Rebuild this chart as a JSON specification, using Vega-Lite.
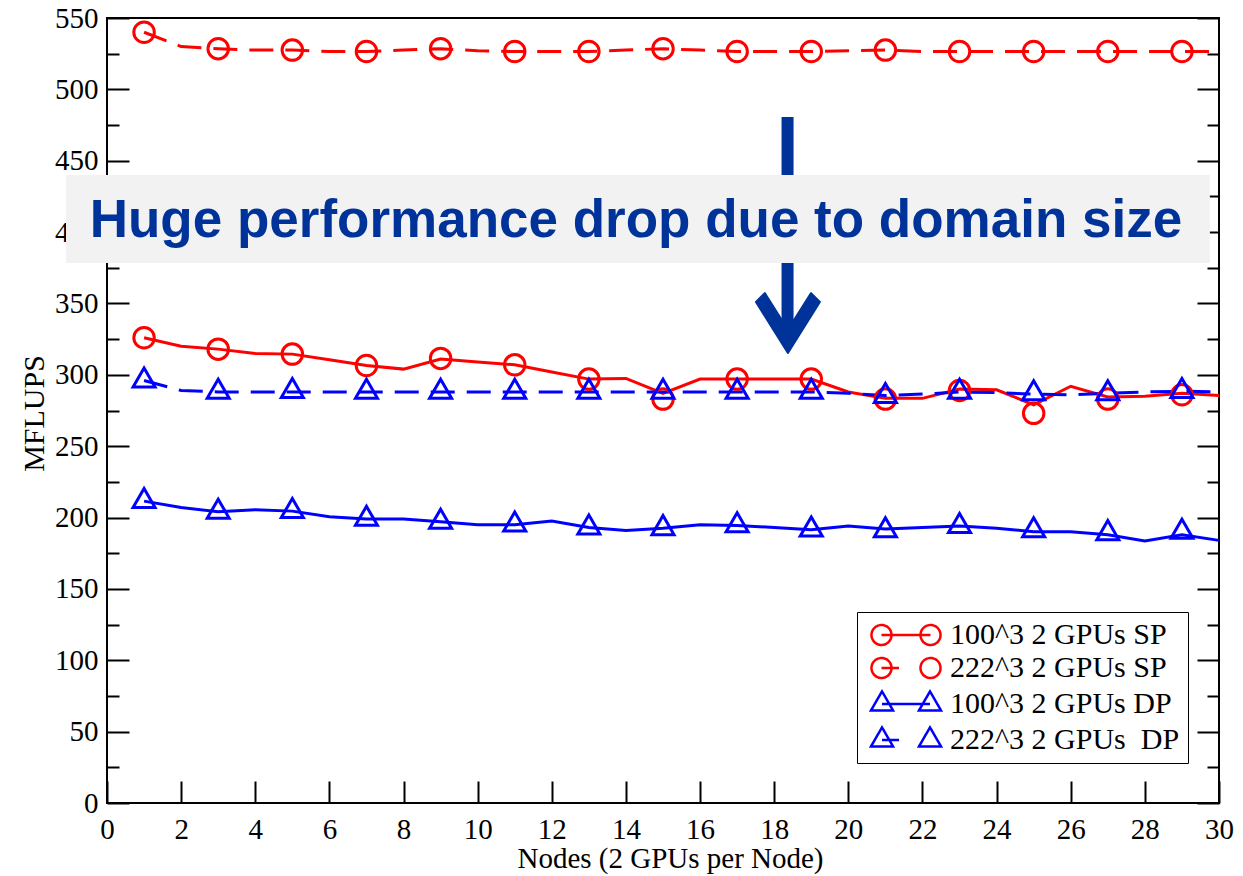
{
  "$schema": "https://vega.github.io/schema/vega-lite/v6.json",
  "width": 1112,
  "height": 785,
  "autosize": {"type": "none"},
  "padding": {"left": 107, "top": 18, "right": 24, "bottom": 73},
  "background": "white",
  "config": {
    "font": "Liberation Serif",
    "view": {"stroke": "black", "strokeWidth": 2},
    "style": {"guide-label": {"font": "Times New Roman, Liberation Serif, serif", "fill": "black"}, "guide-title": {"font": "Liberation Serif", "fill": "black"}},
    "axis": {"domain": false, "grid": false, "tickColor": "black", "tickWidth": 2, "labelFont": "Times New Roman, Liberation Serif, serif", "labelFontSize": 29, "labelColor": "black", "titleFont": "Liberation Serif", "titleFontWeight": "normal", "titleColor": "black", "labelOverlap": false, "labelFlush": false},
    "legend": {"labelFont": "Liberation Serif", "labelFontSize": 30, "labelColor": "black"}
  },
  "datasets": {
    "perf": [
      {"node":1,"series":"100^3 2 GPUs SP","mflups":326,"marker":326},
      {"node":2,"series":"100^3 2 GPUs SP","mflups":320,"marker":null},
      {"node":3,"series":"100^3 2 GPUs SP","mflups":318,"marker":318},
      {"node":4,"series":"100^3 2 GPUs SP","mflups":315,"marker":null},
      {"node":5,"series":"100^3 2 GPUs SP","mflups":314.5,"marker":314.5},
      {"node":6,"series":"100^3 2 GPUs SP","mflups":310.5,"marker":null},
      {"node":7,"series":"100^3 2 GPUs SP","mflups":306.5,"marker":306.5},
      {"node":8,"series":"100^3 2 GPUs SP","mflups":304,"marker":null},
      {"node":9,"series":"100^3 2 GPUs SP","mflups":311,"marker":311.5},
      {"node":10,"series":"100^3 2 GPUs SP","mflups":309,"marker":null},
      {"node":11,"series":"100^3 2 GPUs SP","mflups":307,"marker":307},
      {"node":12,"series":"100^3 2 GPUs SP","mflups":302,"marker":null},
      {"node":13,"series":"100^3 2 GPUs SP","mflups":297,"marker":297},
      {"node":14,"series":"100^3 2 GPUs SP","mflups":297.5,"marker":null},
      {"node":15,"series":"100^3 2 GPUs SP","mflups":287,"marker":283},
      {"node":16,"series":"100^3 2 GPUs SP","mflups":297,"marker":null},
      {"node":17,"series":"100^3 2 GPUs SP","mflups":297,"marker":297},
      {"node":18,"series":"100^3 2 GPUs SP","mflups":297,"marker":null},
      {"node":19,"series":"100^3 2 GPUs SP","mflups":297,"marker":297},
      {"node":20,"series":"100^3 2 GPUs SP","mflups":288,"marker":null},
      {"node":21,"series":"100^3 2 GPUs SP","mflups":283.5,"marker":283},
      {"node":22,"series":"100^3 2 GPUs SP","mflups":283.5,"marker":null},
      {"node":23,"series":"100^3 2 GPUs SP","mflups":290,"marker":289},
      {"node":24,"series":"100^3 2 GPUs SP","mflups":289.5,"marker":null},
      {"node":25,"series":"100^3 2 GPUs SP","mflups":279,"marker":273},
      {"node":26,"series":"100^3 2 GPUs SP","mflups":292,"marker":null},
      {"node":27,"series":"100^3 2 GPUs SP","mflups":284.5,"marker":283},
      {"node":28,"series":"100^3 2 GPUs SP","mflups":285,"marker":null},
      {"node":29,"series":"100^3 2 GPUs SP","mflups":287,"marker":286},
      {"node":30,"series":"100^3 2 GPUs SP","mflups":285.5,"marker":null},

      {"node":1,"series":"222^3 2 GPUs SP","mflups":540,"marker":540},
      {"node":2,"series":"222^3 2 GPUs SP","mflups":530,"marker":null},
      {"node":3,"series":"222^3 2 GPUs SP","mflups":528.5,"marker":528.5},
      {"node":4,"series":"222^3 2 GPUs SP","mflups":527.5,"marker":null},
      {"node":5,"series":"222^3 2 GPUs SP","mflups":527.5,"marker":527.5},
      {"node":6,"series":"222^3 2 GPUs SP","mflups":526.5,"marker":null},
      {"node":7,"series":"222^3 2 GPUs SP","mflups":526.5,"marker":526.5},
      {"node":8,"series":"222^3 2 GPUs SP","mflups":527.5,"marker":null},
      {"node":9,"series":"222^3 2 GPUs SP","mflups":528.5,"marker":528.5},
      {"node":10,"series":"222^3 2 GPUs SP","mflups":527,"marker":null},
      {"node":11,"series":"222^3 2 GPUs SP","mflups":526.5,"marker":526.5},
      {"node":12,"series":"222^3 2 GPUs SP","mflups":526.5,"marker":null},
      {"node":13,"series":"222^3 2 GPUs SP","mflups":526.5,"marker":526.5},
      {"node":14,"series":"222^3 2 GPUs SP","mflups":527.5,"marker":null},
      {"node":15,"series":"222^3 2 GPUs SP","mflups":528.5,"marker":528.5},
      {"node":16,"series":"222^3 2 GPUs SP","mflups":527.5,"marker":null},
      {"node":17,"series":"222^3 2 GPUs SP","mflups":526.5,"marker":526.5},
      {"node":18,"series":"222^3 2 GPUs SP","mflups":526.5,"marker":null},
      {"node":19,"series":"222^3 2 GPUs SP","mflups":526.5,"marker":526.5},
      {"node":20,"series":"222^3 2 GPUs SP","mflups":527,"marker":null},
      {"node":21,"series":"222^3 2 GPUs SP","mflups":527.5,"marker":527.5},
      {"node":22,"series":"222^3 2 GPUs SP","mflups":526.5,"marker":null},
      {"node":23,"series":"222^3 2 GPUs SP","mflups":526.5,"marker":526.5},
      {"node":24,"series":"222^3 2 GPUs SP","mflups":526.5,"marker":null},
      {"node":25,"series":"222^3 2 GPUs SP","mflups":526.5,"marker":526.5},
      {"node":26,"series":"222^3 2 GPUs SP","mflups":526.5,"marker":null},
      {"node":27,"series":"222^3 2 GPUs SP","mflups":526.5,"marker":526.5},
      {"node":28,"series":"222^3 2 GPUs SP","mflups":526.5,"marker":null},
      {"node":29,"series":"222^3 2 GPUs SP","mflups":526.5,"marker":526.5},
      {"node":30,"series":"222^3 2 GPUs SP","mflups":526.5,"marker":null},

      {"node":1,"series":"100^3 2 GPUs DP","mflups":211.5,"marker":211.5},
      {"node":2,"series":"100^3 2 GPUs DP","mflups":207,"marker":null},
      {"node":3,"series":"100^3 2 GPUs DP","mflups":204,"marker":204},
      {"node":4,"series":"100^3 2 GPUs DP","mflups":205.5,"marker":null},
      {"node":5,"series":"100^3 2 GPUs DP","mflups":204.5,"marker":204.5},
      {"node":6,"series":"100^3 2 GPUs DP","mflups":200.5,"marker":null},
      {"node":7,"series":"100^3 2 GPUs DP","mflups":199,"marker":199},
      {"node":8,"series":"100^3 2 GPUs DP","mflups":199,"marker":null},
      {"node":9,"series":"100^3 2 GPUs DP","mflups":197,"marker":197},
      {"node":10,"series":"100^3 2 GPUs DP","mflups":195,"marker":null},
      {"node":11,"series":"100^3 2 GPUs DP","mflups":195,"marker":195},
      {"node":12,"series":"100^3 2 GPUs DP","mflups":197.5,"marker":null},
      {"node":13,"series":"100^3 2 GPUs DP","mflups":193,"marker":193},
      {"node":14,"series":"100^3 2 GPUs DP","mflups":191,"marker":null},
      {"node":15,"series":"100^3 2 GPUs DP","mflups":192.5,"marker":192.5},
      {"node":16,"series":"100^3 2 GPUs DP","mflups":195,"marker":null},
      {"node":17,"series":"100^3 2 GPUs DP","mflups":194.5,"marker":194.5},
      {"node":18,"series":"100^3 2 GPUs DP","mflups":193,"marker":null},
      {"node":19,"series":"100^3 2 GPUs DP","mflups":191.5,"marker":191.5},
      {"node":20,"series":"100^3 2 GPUs DP","mflups":194,"marker":null},
      {"node":21,"series":"100^3 2 GPUs DP","mflups":192,"marker":191},
      {"node":22,"series":"100^3 2 GPUs DP","mflups":193,"marker":null},
      {"node":23,"series":"100^3 2 GPUs DP","mflups":194,"marker":194},
      {"node":24,"series":"100^3 2 GPUs DP","mflups":192.5,"marker":null},
      {"node":25,"series":"100^3 2 GPUs DP","mflups":190,"marker":191},
      {"node":26,"series":"100^3 2 GPUs DP","mflups":190,"marker":null},
      {"node":27,"series":"100^3 2 GPUs DP","mflups":188,"marker":189},
      {"node":28,"series":"100^3 2 GPUs DP","mflups":183.5,"marker":null},
      {"node":29,"series":"100^3 2 GPUs DP","mflups":188,"marker":190},
      {"node":30,"series":"100^3 2 GPUs DP","mflups":184,"marker":null},

      {"node":1,"series":"222^3 2 GPUs\u00a0 DP","mflups":296,"marker":296},
      {"node":2,"series":"222^3 2 GPUs\u00a0 DP","mflups":289,"marker":null},
      {"node":3,"series":"222^3 2 GPUs\u00a0 DP","mflups":288,"marker":288},
      {"node":4,"series":"222^3 2 GPUs\u00a0 DP","mflups":288,"marker":null},
      {"node":5,"series":"222^3 2 GPUs\u00a0 DP","mflups":288,"marker":288.5},
      {"node":6,"series":"222^3 2 GPUs\u00a0 DP","mflups":288,"marker":null},
      {"node":7,"series":"222^3 2 GPUs\u00a0 DP","mflups":288,"marker":288},
      {"node":8,"series":"222^3 2 GPUs\u00a0 DP","mflups":288,"marker":null},
      {"node":9,"series":"222^3 2 GPUs\u00a0 DP","mflups":288,"marker":288},
      {"node":10,"series":"222^3 2 GPUs\u00a0 DP","mflups":288,"marker":null},
      {"node":11,"series":"222^3 2 GPUs\u00a0 DP","mflups":288,"marker":288},
      {"node":12,"series":"222^3 2 GPUs\u00a0 DP","mflups":288,"marker":null},
      {"node":13,"series":"222^3 2 GPUs\u00a0 DP","mflups":288,"marker":288},
      {"node":14,"series":"222^3 2 GPUs\u00a0 DP","mflups":288,"marker":null},
      {"node":15,"series":"222^3 2 GPUs\u00a0 DP","mflups":288,"marker":288},
      {"node":16,"series":"222^3 2 GPUs\u00a0 DP","mflups":288,"marker":null},
      {"node":17,"series":"222^3 2 GPUs\u00a0 DP","mflups":288,"marker":288},
      {"node":18,"series":"222^3 2 GPUs\u00a0 DP","mflups":288,"marker":null},
      {"node":19,"series":"222^3 2 GPUs\u00a0 DP","mflups":288,"marker":288},
      {"node":20,"series":"222^3 2 GPUs\u00a0 DP","mflups":287,"marker":null},
      {"node":21,"series":"222^3 2 GPUs\u00a0 DP","mflups":285.5,"marker":285},
      {"node":22,"series":"222^3 2 GPUs\u00a0 DP","mflups":286.5,"marker":null},
      {"node":23,"series":"222^3 2 GPUs\u00a0 DP","mflups":288,"marker":288},
      {"node":24,"series":"222^3 2 GPUs\u00a0 DP","mflups":287.5,"marker":null},
      {"node":25,"series":"222^3 2 GPUs\u00a0 DP","mflups":286.5,"marker":287},
      {"node":26,"series":"222^3 2 GPUs\u00a0 DP","mflups":286,"marker":null},
      {"node":27,"series":"222^3 2 GPUs\u00a0 DP","mflups":287,"marker":287},
      {"node":28,"series":"222^3 2 GPUs\u00a0 DP","mflups":288,"marker":null},
      {"node":29,"series":"222^3 2 GPUs\u00a0 DP","mflups":288.5,"marker":288.5},
      {"node":30,"series":"222^3 2 GPUs\u00a0 DP","mflups":288,"marker":null}
    ],
    "notes": [
      {"label": "Huge performance drop due to domain size", "boxX": -1.106, "boxX2": 29.755, "boxY": 440.0, "boxY2": 378.3, "textX": 14.27, "textY": 396.6, "shaftX": 18.36, "shaftY": 480.6, "shaftY2": 334.9, "headX": 18.37, "headY": 337}
    ]
  },
  "layer": [
    {
      "data": {"name": "perf"},
      "mark": {"type": "point", "filled": false, "strokeWidth": 2.5, "opacity": 1, "size": 0},
      "encoding": {
        "x": {"field": "node", "type": "quantitative", "scale": {"domain": [0, 30], "nice": false, "zero": false}, "axis": null},
        "y": {"field": "mflups", "type": "quantitative", "scale": {"domain": [0, 550], "nice": false, "zero": false}, "axis": null},
        "color": {"field": "series", "type": "nominal",
          "scale": {"domain": ["100^3 2 GPUs SP", "222^3 2 GPUs SP", "100^3 2 GPUs DP", "222^3 2 GPUs\u00a0 DP"], "range": ["#ff0000", "#ff0000", "#0000ff", "#0000ff"]},
          "legend": {"disable": false, "orient": "none", "legendX": 750, "legendY": 594, "title": null, "padding": 8, "strokeColor": "black", "fillColor": "white", "labelFont": "Liberation Serif", "labelFontSize": 30, "labelColor": "black", "labelOffset": 29, "symbolOffset": 26, "rowPadding": 3, "symbolSize": 400, "symbolStrokeWidth": 2.5, "symbolFillColor": "transparent", "symbolDash": [1, 0], "labelLimit": 400}},
        "shape": {"field": "series", "type": "nominal",
          "scale": {"domain": ["100^3 2 GPUs SP", "222^3 2 GPUs SP", "100^3 2 GPUs DP", "222^3 2 GPUs\u00a0 DP"],
            "range": [
              "M-3.45,0 C-3.45,-0.552 -3.002,-1 -2.45,-1 C-1.898,-1 -1.45,-0.552 -1.45,0 C-1.45,0.552 -1.898,1 -2.45,1 C-3.002,1 -3.45,0.552 -3.45,0 Z M1.45,0 C1.45,-0.552 1.898,-1 2.45,-1 C3.002,-1 3.45,-0.552 3.45,0 C3.45,0.552 3.002,1 2.45,1 C1.898,1 1.45,0.552 1.45,0 Z M-2.45,0 L2.45,0",
              "M-3.45,0 C-3.45,-0.552 -3.002,-1 -2.45,-1 C-1.898,-1 -1.45,-0.552 -1.45,0 C-1.45,0.552 -1.898,1 -2.45,1 C-3.002,1 -3.45,0.552 -3.45,0 Z M1.45,0 C1.45,-0.552 1.898,-1 2.45,-1 C3.002,-1 3.45,-0.552 3.45,0 C3.45,0.552 3.002,1 2.45,1 C1.898,1 1.45,0.552 1.45,0 Z M-2.45,0 L-0.7,0",
              "M-2.4,-1.26 L-1.3,0.64 L-3.5,0.64 Z M2.4,-1.26 L3.5,0.64 L1.3,0.64 Z M-2.4,0 L2.4,0",
              "M-2.4,-1.26 L-1.3,0.64 L-3.5,0.64 Z M2.4,-1.26 L3.5,0.64 L1.3,0.64 Z M-2.4,0 L-0.7,0"
            ]},
          "legend": {"disable": false, "orient": "none", "legendX": 750, "legendY": 594, "title": null, "padding": 8, "strokeColor": "black", "fillColor": "white", "labelFont": "Liberation Serif", "labelFontSize": 30, "labelColor": "black", "labelOffset": 29, "symbolOffset": 26, "rowPadding": 3, "symbolSize": 400, "symbolStrokeWidth": 2.5, "symbolFillColor": "transparent", "symbolDash": [1, 0], "labelLimit": 400}}
      }
    },
    {
      "data": {"name": "perf"},
      "transform": [{"filter": {"field": "series", "oneOf": ["100^3 2 GPUs SP", "100^3 2 GPUs DP"]}}],
      "mark": {"type": "line", "strokeWidth": 3, "interpolate": "linear"},
      "encoding": {
        "x": {"field": "node", "type": "quantitative", "scale": {"domain": [0, 30], "nice": false, "zero": false},
          "axis": {"values": [0,2,4,6,8,10,12,14,16,18,20,22,24,26,28,30], "tickSize": -22, "labelPadding": 34, "labelFont": "Times New Roman, Liberation Serif, serif", "labelFontSize": 29, "title": "Nodes (2 GPUs per Node)", "titleFontSize": 29, "titleX": 563, "titleY": 64, "titleBaseline": "alphabetic"}},
        "y": {"field": "mflups", "type": "quantitative", "scale": {"domain": [0, 550], "nice": false, "zero": false},
          "axis": {"orient": "left", "values": [0,50,100,150,200,250,300,350,400,450,500,550], "tickSize": -22, "labelPadding": 31, "labelBaseline": "middle", "labelFont": "Times New Roman, Liberation Serif, serif", "labelFontSize": 29, "title": "MFLUPS", "titleFontSize": 30, "titleX": -64, "titleY": 395, "titleBaseline": "alphabetic", "titleAngle": -90}},
        "color": {"field": "series", "type": "nominal"}
      }
    },
    {
      "data": {"name": "perf"},
      "transform": [{"filter": {"field": "series", "oneOf": ["222^3 2 GPUs SP", "222^3 2 GPUs\u00a0 DP"]}}],
      "mark": {"type": "line", "strokeWidth": 3, "interpolate": "linear", "strokeDash": [24, 12]},
      "encoding": {
        "x": {"field": "node", "type": "quantitative", "scale": {"domain": [0, 30], "nice": false, "zero": false}, "axis": null},
        "y": {"field": "mflups", "type": "quantitative", "scale": {"domain": [0, 550], "nice": false, "zero": false}, "axis": null},
        "color": {"field": "series", "type": "nominal"}
      }
    },
    {
      "data": {"name": "perf"},
      "transform": [{"filter": {"field": "series", "oneOf": ["100^3 2 GPUs SP", "222^3 2 GPUs SP"]}}],
      "mark": {"type": "point", "shape": "circle", "size": 420, "strokeWidth": 3, "filled": false, "opacity": 1},
      "encoding": {
        "x": {"field": "node", "type": "quantitative", "scale": {"domain": [0, 30], "nice": false, "zero": false}, "axis": null},
        "y": {"field": "marker", "type": "quantitative", "scale": {"domain": [0, 550], "nice": false, "zero": false},
          "axis": {"orient": "left", "values": [25,75,125,175,225,275,325,375,425,475,525], "tickSize": -12, "labels": false, "title": null}},
        "color": {"field": "series", "type": "nominal"}
      }
    },
    {
      "data": {"name": "perf"},
      "transform": [{"filter": {"field": "series", "oneOf": ["100^3 2 GPUs DP", "222^3 2 GPUs\u00a0 DP"]}}],
      "mark": {"type": "point", "shape": "M0,-1.15 L1,0.58 L-1,0.58 Z", "size": 484, "strokeWidth": 3, "filled": false, "opacity": 1},
      "encoding": {
        "x": {"field": "node", "type": "quantitative", "scale": {"domain": [0, 30], "nice": false, "zero": false}, "axis": null},
        "y": {"field": "marker", "type": "quantitative", "scale": {"domain": [0, 550], "nice": false, "zero": false},
          "axis": {"orient": "right", "values": [0,50,100,150,200,250,300,350,400,450,500,550], "tickSize": -22, "labels": false, "title": null}},
        "color": {"field": "series", "type": "nominal"}
      }
    },
    {
      "data": {"name": "notes"},
      "mark": {"type": "rule", "color": "#003399", "strokeWidth": 12},
      "encoding": {
        "x": {"field": "shaftX", "type": "quantitative", "scale": {"domain": [0, 30], "nice": false, "zero": false}, "axis": null},
        "y": {"field": "shaftY", "type": "quantitative", "scale": {"domain": [0, 550], "nice": false, "zero": false},
          "axis": {"orient": "right", "values": [25,75,125,175,225,275,325,375,425,475,525], "tickSize": -12, "labels": false, "title": null}},
        "y2": {"field": "shaftY2"}
      }
    },
    {
      "data": {"name": "notes"},
      "mark": {"type": "rect", "color": "#f2f2f2"},
      "encoding": {
        "x": {"field": "boxX", "type": "quantitative", "scale": {"domain": [0, 30], "nice": false, "zero": false}, "axis": null},
        "x2": {"field": "boxX2"},
        "y": {"field": "boxY", "type": "quantitative", "scale": {"domain": [0, 550], "nice": false, "zero": false}, "axis": null},
        "y2": {"field": "boxY2"}
      }
    },
    {
      "data": {"name": "notes"},
      "mark": {"type": "text", "font": "Liberation Sans", "fontWeight": "bold", "fontSize": 53, "color": "#003399", "align": "center", "baseline": "alphabetic"},
      "encoding": {
        "x": {"field": "textX", "type": "quantitative", "scale": {"domain": [0, 30], "nice": false, "zero": false}, "axis": null},
        "y": {"field": "textY", "type": "quantitative", "scale": {"domain": [0, 550], "nice": false, "zero": false}, "axis": null},
        "text": {"field": "label"}
      }
    },
    {
      "data": {"name": "notes"},
      "mark": {"type": "point", "shape": "M-0.94,-0.59 L0,0.91 L0.94,-0.59 L0.68,-0.85 L0.18,-0.06 L-0.18,-0.06 L-0.68,-0.85 Z", "size": 4624, "filled": true, "fill": "#003399", "stroke": "#003399", "strokeWidth": 2, "strokeJoin": "round", "opacity": 1},
      "encoding": {
        "x": {"field": "headX", "type": "quantitative", "scale": {"domain": [0, 30], "nice": false, "zero": false}, "axis": null},
        "y": {"field": "headY", "type": "quantitative", "scale": {"domain": [0, 550], "nice": false, "zero": false}, "axis": null}
      }
    }
  ],
  "resolve": {"axis": {"x": "independent", "y": "independent"}}
}
